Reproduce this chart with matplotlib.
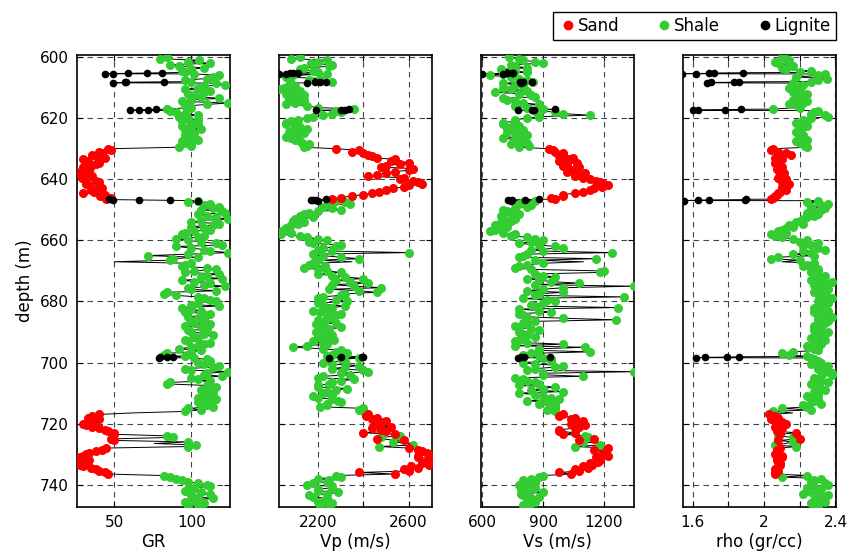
import numpy as np
import matplotlib
matplotlib.use("Agg")
import matplotlib.pyplot as plt
from matplotlib.lines import Line2D

# --- well log samples, whole metres 600-747 m ---
depth = list(range(600, 748))

gr = [84, 105, 112, 92, 100, 96, 118, 110, 100, 122,
      104, 112, 98, 106, 100, 124, 96, 84, 90, 104,
      98, 94, 104, 100, 96, 102, 98, 104, 96, 100,
      46, 40, 36, 44, 33, 38, 30, 34, 27, 36,
      31, 40, 34, 42, 37, 44, 48, 104, 112, 118,
      106, 122, 110, 124, 100, 114, 108, 102, 94, 104,
      98, 116, 90, 108, 124, 72, 88, 50, 96, 110,
      102, 118, 106, 94, 112, 122, 100, 84, 90, 108,
      116, 100, 94, 106, 112, 98, 108, 102, 96, 110,
      100, 114, 104, 98, 108, 100, 106, 84, 96, 110,
      104, 118, 96, 124, 108, 100, 112, 84, 116, 106,
      114, 108, 116, 104, 110, 98, 96, 40, 33, 37,
      30, 36, 44, 50, 84, 48, 98, 103, 45, 38,
      32, 28, 34, 26, 30, 38, 44, 82, 90, 98,
      110, 102, 96, 112, 104, 100, 108, 98]

vp = [2120, 2240, 2170, 2250, 2120, 2200, 2090, 2210, 2260, 2070,
      2050, 2120, 2060, 2110, 2140, 2100, 2150, 2360, 2300, 2220,
      2150, 2080, 2060, 2120, 2090, 2140, 2060, 2100, 2130, 2150,
      2280, 2350, 2420, 2460, 2520, 2560, 2480, 2600, 2500, 2420,
      2560, 2640, 2600, 2530, 2470, 2400, 2300, 2280, 2340, 2220,
      2300, 2160, 2120, 2100, 2140, 2080, 2060, 2040, 2035, 2150,
      2240, 2180, 2280, 2200, 2600, 2220, 2380, 2350, 2160, 2140,
      2240, 2200, 2320, 2280, 2420, 2360, 2250, 2460, 2300, 2200,
      2330, 2220, 2260, 2180, 2300, 2240, 2200, 2280, 2220, 2250,
      2190, 2260, 2230, 2180, 2240, 2090, 2300, 2330, 2240, 2300,
      2220, 2380, 2260, 2420, 2340, 2200, 2300, 2250, 2200, 2280,
      2220, 2180, 2260, 2300, 2240, 2400, 2400, 2420, 2460, 2500,
      2450, 2520, 2480, 2400, 2560, 2460, 2530, 2620, 2600, 2660,
      2690, 2640, 2700, 2660, 2610, 2580, 2380, 2280, 2200, 2240,
      2150, 2260, 2200, 2240, 2180, 2230, 2260, 2210]

vs = [730, 800, 900, 760, 690, 820, 640, 780, 850, 760,
      700, 820, 780, 860, 720, 800, 760, 900, 960, 1130,
      820, 760, 700, 740, 800, 720, 780, 760, 820, 830,
      930, 960, 1000, 1050, 980, 1020, 1080, 1040, 1110, 1060,
      1130, 1180, 1220, 1150, 1100, 1000, 940, 860, 780, 820,
      700, 740, 690, 760, 720, 660, 700, 640, 760, 820,
      900, 780, 960, 840, 1240, 800, 1160, 1100, 820, 760,
      1200, 860, 960, 880, 1080, 1350, 900, 1000, 860, 800,
      960, 840, 1270, 880, 780, 820, 1260, 800, 760, 840,
      780, 820, 800, 760, 1000, 1110, 880, 840, 880, 940,
      800, 1000, 860, 1350, 900, 760, 820, 880, 960, 840,
      780, 900, 980, 920, 960, 960, 960, 1000, 1060, 1100,
      1040, 1080, 980, 1060, 1110, 1150, 1100, 1180, 1220, 1210,
      1190, 1160, 1180, 1130, 1100, 1060, 980, 900, 840, 800,
      780, 860, 820, 790, 880, 820, 840, 830]

rho = [2.10, 2.14, 2.08, 2.16, 2.12, 2.20, 2.30, 2.35, 2.26, 2.22,
       2.14, 2.18, 2.24, 2.20, 2.16, 2.22, 2.19, 2.05, 2.28, 2.34,
       2.26, 2.24, 2.20, 2.22, 2.20, 2.19, 2.21, 2.24, 2.20, 2.23,
       2.05, 2.08, 2.15, 2.06, 2.09, 2.07, 2.10, 2.08, 2.11, 2.09,
       2.12, 2.10, 2.13, 2.11, 2.09, 2.07, 2.05, 2.30, 2.36, 2.26,
       2.32, 2.24, 2.28, 2.22, 2.18, 2.14, 2.12, 2.08, 2.04, 2.10,
       2.24, 2.30, 2.22, 2.34, 2.26, 2.28, 2.04, 2.10, 2.24, 2.26,
       2.30, 2.28, 2.32, 2.26, 2.34, 2.30, 2.36, 2.28, 2.32, 2.38,
       2.30, 2.34, 2.28, 2.36, 2.32, 2.38, 2.30, 2.34, 2.28, 2.32,
       2.36, 2.30, 2.26, 2.28, 2.32, 2.26, 2.30, 2.10, 2.24, 2.28,
       2.32, 2.36, 2.30, 2.34, 2.38, 2.28, 2.32, 2.26, 2.30, 2.34,
       2.28, 2.24, 2.30, 2.26, 2.22, 2.10, 2.05, 2.03, 2.08, 2.06,
       2.12, 2.06, 2.07, 2.18, 2.08, 2.20, 2.16, 2.06, 2.09, 2.08,
       2.06, 2.10, 2.07, 2.09, 2.08, 2.06, 2.06, 2.24, 2.32, 2.26,
       2.36, 2.24, 2.30, 2.22, 2.34, 2.28, 2.26, 2.30]

# facies per sample: S = sand, H = shale, - = not classified (line only)
facies = ("HHHHHHHHHH" "HHHHHHHHHH" "HHHHHHHHHH"
          "SSSSSSSSSS" "SSSSSSSHHH" "HHHHHHHHHH"
          "HHHHHHH-HH" "HHHHHHHHHH" "HHHHHHHHHH"
          "HHHHHHHHHH" "HHHHHHHHHH" "HHHHHHHSSS"
          "SSSSHSHHSS" "SSSSSSSHHH" "HHHHHHHH")

# --- half-metre samples, 600.5-746.5 m ---
depth_mid = [d + 0.5 for d in depth[:-1]]

gr_mid = [80, 98, 86, 108, 94, 102, 114, 96, 116, 108,
          96, 108, 102, 118, 94, 110, 100, 86, 96, 92,
          104, 100, 94, 106, 100, 96, 102, 94, 100, 92,
          48, 42, 38, 30, 40, 35, 32, 28, 33, 29,
          38, 32, 40, 35, 30, 41, 45, 98, 108, 114,
          120, 104, 116, 106, 118, 100, 112, 96, 108, 90,
          106, 120, 100, 112, 98, 104, 86, 100, 94, 116,
          96, 110, 120, 102, 108, 98, 116, 82, 104, 112,
          104, 118, 100, 96, 110, 104, 100, 112, 106, 98,
          108, 102, 96, 112, 104, 92, 100, 82, 102, 112,
          108, 114, 100, 110, 120, 104, 86, 110, 112, 108,
          112, 104, 112, 108, 114, 106, 62, 36, 40, 34,
          32, 40, 46, 50, 88, 50, 76, 98, 42, 34,
          30, 26, 32, 28, 35, 40, 46, 86, 94, 104,
          112, 98, 106, 100, 114, 96, 104]

vp_mid = [2080, 2200, 2260, 2140, 2180, 2240, 2060, 2160, 2080, 2100,
          2030, 2090, 2140, 2070, 2120, 2060, 2200, 2280, 2260, 2180,
          2110, 2060, 2100, 2150, 2070, 2110, 2080, 2120, 2160, 2140,
          2380, 2400, 2440, 2540, 2600, 2500, 2620, 2540, 2460, 2580,
          2620, 2660, 2580, 2500, 2440, 2350, 2260, 2320, 2240, 2260,
          2200, 2140, 2180, 2090, 2110, 2070, 2050, 2080, 2120, 2200,
          2160, 2300, 2220, 2260, 2180, 2300, 2200, 2180, 2230, 2200,
          2300, 2260, 2400, 2340, 2260, 2480, 2380, 2320, 2220, 2280,
          2200, 2320, 2240, 2210, 2280, 2260, 2230, 2190, 2300, 2210,
          2240, 2200, 2270, 2220, 2150, 2220, 2280, 2260, 2380, 2320,
          2260, 2320, 2400, 2300, 2220, 2360, 2260, 2200, 2330, 2240,
          2260, 2200, 2290, 2240, 2210, 2380, 2390, 2410, 2440, 2480,
          2470, 2440, 2500, 2540, 2480, 2580, 2600, 2470, 2640, 2680,
          2640, 2700, 2670, 2690, 2640, 2600, 2540, 2300, 2250, 2180,
          2260, 2200, 2290, 2160, 2240, 2200, 2250]

vs_mid = [780, 860, 740, 820, 760, 700, 740, 820, 700, 800,
          740, 660, 840, 700, 760, 880, 820, 860, 1000, 880,
          760, 700, 780, 720, 760, 820, 700, 800, 740, 780,
          950, 1000, 980, 1030, 1070, 1000, 1060, 1020, 1080, 1100,
          1160, 1200, 1190, 1130, 1060, 1000, 960, 800, 840, 760,
          720, 780, 700, 740, 680, 720, 660, 700, 740, 860,
          840, 880, 1000, 900, 820, 780, 860, 900, 780, 840,
          1180, 900, 820, 940, 860, 1000, 820, 880, 1300, 920,
          900, 860, 780, 940, 800, 1000, 860, 820, 780, 880,
          800, 860, 780, 820, 760, 880, 1130, 800, 900, 940,
          860, 960, 820, 900, 1100, 800, 860, 780, 900, 1000,
          860, 940, 820, 880, 940, 920, 940, 980, 1040, 1080,
          1110, 1060, 980, 1000, 1120, 1080, 1200, 1060, 1150, 1200,
          1220, 1180, 1170, 1140, 1120, 1080, 1040, 880, 800, 860,
          820, 790, 900, 800, 840, 860, 800]

rho_mid = [2.12, 2.06, 2.14, 2.10, 2.26, 2.34, 2.18, 2.30, 2.16, 2.20,
           2.20, 2.16, 2.22, 2.18, 2.24, 2.14, 2.20, 2.30, 2.26, 2.36,
           2.22, 2.18, 2.24, 2.20, 2.18, 2.22, 2.20, 2.18, 2.22, 2.24,
           2.04, 2.12, 2.08, 2.10, 2.06, 2.08, 2.07, 2.09, 2.10, 2.08,
           2.11, 2.14, 2.10, 2.12, 2.08, 2.06, 2.04, 2.24, 2.32, 2.34,
           2.28, 2.30, 2.24, 2.20, 2.22, 2.16, 2.10, 2.12, 2.06, 2.16,
           2.20, 2.26, 2.30, 2.22, 2.16, 2.08, 2.20, 2.28, 2.22, 2.30,
           2.26, 2.34, 2.30, 2.38, 2.28, 2.32, 2.34, 2.30, 2.36, 2.32,
           2.36, 2.30, 2.32, 2.28, 2.34, 2.30, 2.36, 2.32, 2.30, 2.28,
           2.32, 2.28, 2.34, 2.30, 2.24, 2.28, 2.16, 2.14, 2.26, 2.30,
           2.26, 2.30, 2.34, 2.38, 2.32, 2.30, 2.36, 2.28, 2.32, 2.28,
           2.30, 2.26, 2.28, 2.32, 2.24, 2.26, 2.16, 2.06, 2.04, 2.10,
           2.08, 2.10, 2.07, 2.09, 2.16, 2.08, 2.12, 2.18, 2.07, 2.08,
           2.10, 2.07, 2.08, 2.09, 2.07, 2.08, 2.06, 2.10, 2.28, 2.34,
           2.28, 2.32, 2.26, 2.36, 2.30, 2.34, 2.28]

facies_mid = ("HHHHHHHHHH" "HHHHHHHHHH" "HHHHHHHHHH"
              "SSSSSSSSSS" "SSSSSSSHHH" "HHHHHHHHHH"
              "HHHHHHHHHH" "HHHHHHHHHH" "HHHHHHHHHH"
              "HHHHHHHHHH" "HHHHHHHHHH" "HHHHHH-SSS"
              "SSSSHS-HSS" "SSSSSSSHHH" "HHHHHHH")

# thin lignite streaks
lig_depth = [605.1, 605.2, 605.3, 605.4, 605.45,
             608.1, 608.2, 608.3, 608.4,
             617.1, 617.2, 617.3, 617.4,
             646.55, 646.65, 646.75, 646.85, 646.95,
             698.1, 698.2, 698.3, 698.4]
lig_gr = [81, 71, 59, 44, 49,
          82, 58, 57, 49,
          77, 72, 66, 60,
          47, 49, 66, 86, 104,
          88, 84, 80, 79]
lig_vp = [2112, 2090, 2075, 2028, 2060,
          2237, 2210, 2185, 2150,
          2335, 2318, 2300, 2190,
          2234, 2193, 2180, 2170, 2200,
          2398, 2395, 2300, 2247]
lig_vs = [752, 745, 720, 600, 700,
          843, 802, 785, 790,
          961, 856, 843, 777,
          879, 810, 744, 728, 740,
          933, 807, 790, 777]
lig_rho = [1.88, 1.72, 1.69, 1.54, 1.62,
           1.86, 1.83, 1.70, 1.68,
           1.87, 1.78, 1.63, 1.60,
           1.90, 1.89, 1.69, 1.63, 1.55,
           1.86, 1.79, 1.67, 1.62]

logs = ["GR", "Vp (m/s)", "Vs (m/s)", "rho (gr/cc)"]
xlims = [(26, 125), (2028, 2703), (593, 1350), (1.545, 2.403)]
xticks = [[50, 100], [2200, 2400, 2600], [600, 900, 1200],
          [1.6, 1.8, 2.0, 2.2, 2.4]]
xticklabels = [["50", "100"], ["2200", "", "2600"], ["600", "900", "1200"],
               ["1.6", "", "2", "", "2.4"]]

# merge everything into one depth-sorted log
d_all = np.array(depth + depth_mid + lig_depth, dtype=float)
cols = [np.array(gr + gr_mid + lig_gr, float),
        np.array(vp + vp_mid + lig_vp, float),
        np.array(vs + vs_mid + lig_vs, float),
        np.array(rho + rho_mid + lig_rho, float)]
fac_all = np.array(list(facies) + list(facies_mid) + ["L"] * len(lig_depth))
order = np.argsort(d_all, kind="stable")
d_all = d_all[order]
cols = [c[order] for c in cols]
fac_all = fac_all[order]

colors = {"S": "#ff0000", "H": "#33cc33", "L": "#000000"}
names = {"S": "Sand", "H": "Shale", "L": "Lignite"}

plt.rcParams["font.family"] = "DejaVu Sans"
fig = plt.figure(figsize=(8.51, 5.59), dpi=100)

lefts = [77, 279, 481, 683]
for i, left in enumerate(lefts):
    ax = fig.add_axes([left / 851, 1 - 507 / 559, 153 / 851, 452 / 559])
    vals = cols[i]
    ax.plot(vals, d_all, color="black", lw=0.7, zorder=2)
    for f in ["H", "S", "L"]:
        m = fac_all == f
        ax.plot(vals[m], d_all[m], ls="none", marker="o", ms=6.5 if f != "L" else 5.5,
                mec="none", color=colors[f], zorder=3)
    ax.set_xlim(*xlims[i])
    ax.set_ylim(747.3, 599.3)
    ax.set_xticks(xticks[i])
    ax.set_xticklabels(xticklabels[i])
    ax.set_yticks(range(600, 741, 20))
    if i == 0:
        ax.set_ylabel("depth (m)", fontsize=12, labelpad=4)
    else:
        ax.set_yticklabels([])
    ax.set_xlabel(logs[i], fontsize=12, labelpad=2)
    ax.tick_params(direction="in", top=True, right=True, labelsize=11,
                   length=4, width=0.8, pad=6)
    ax.grid(True, color="#444444", ls=(0, (5, 4)), lw=0.8, zorder=1)
    ax.set_axisbelow(True)
    for s in ax.spines.values():
        s.set_linewidth(1.2)

handles = [Line2D([], [], ls="none", marker="o", ms=7, mec="none",
                  color=colors[f], label=names[f]) for f in ["S", "H", "L"]]
fig.legend(handles=handles, ncol=3, loc="lower left",
           bbox_to_anchor=(553 / 851, 1 - 40 / 559, 283 / 851, 32 / 559),
           mode="expand", fontsize=12, frameon=True, fancybox=False,
           edgecolor="black", framealpha=1, handletextpad=0.0,
           handlelength=1.2, borderaxespad=0, borderpad=0.3, columnspacing=1.0)

fig.savefig("out.png", dpi=100)
